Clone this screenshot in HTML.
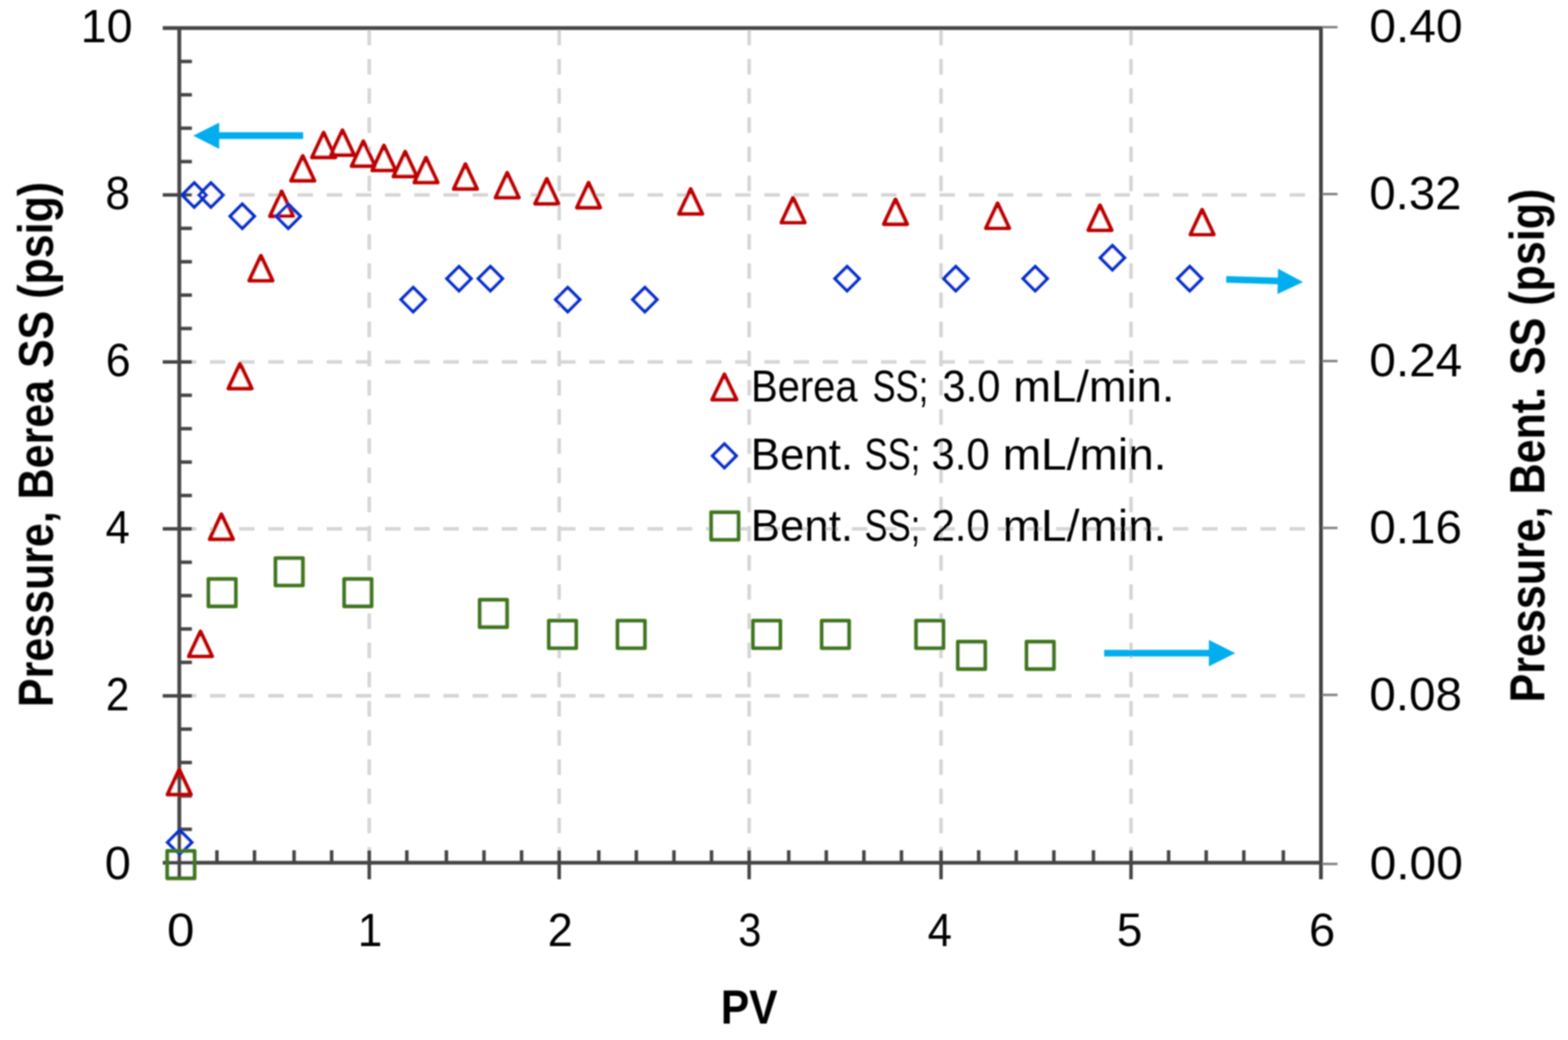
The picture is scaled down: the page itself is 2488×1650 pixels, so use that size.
<!DOCTYPE html>
<html lang="en"><head><meta charset="utf-8"><title>Pressure vs PV</title>
<style>html,body{margin:0;padding:0;background:#fff}body{width:2488px;height:1650px;overflow:hidden}svg{display:block}text{font-family:"Liberation Sans",sans-serif;fill:#000}.b{font-weight:bold}</style></head><body>
<svg width="2488" height="1650" viewBox="0 0 2488 1650" role="img" aria-label="Pressure versus PV chart">
<rect width="2488" height="1650" fill="#fff"/>
<g id="all" filter="url(#soft)">
<defs><filter id="soft" x="-2%" y="-2%" width="104%" height="104%"><feGaussianBlur stdDeviation="1.25"/></filter></defs>
<g fill="none" stroke="#d5d5d5" stroke-width="5.6" stroke-dasharray="24.6 21.7">
<path d="M585.9 47.3V1368.7"/>
<path d="M887.3 47.3V1368.7"/>
<path d="M1188.7 47.3V1368.7"/>
<path d="M1493.2 47.3V1368.7"/>
<path d="M1794.6 47.3V1368.7"/>
<path d="M286.8 309.3H2096.0"/>
<path d="M286.8 574.2H2096.0"/>
<path d="M286.8 839.0H2096.0"/>
<path d="M286.8 1103.9H2096.0"/>
</g>
<g fill="#fff" fill-opacity="0.88" stroke="none">
<path d="M414.0 405.9L432.4 445.1H395.6Z"/>
<path d="M446.9 303.7L465.3 342.9H428.5Z"/>
<path d="M480.4 247.5L498.8 286.7H462.0Z"/>
<path d="M513.5 210.5L531.9 249.7H495.1Z"/>
<path d="M543.4 206.7L561.8 245.9H525.0Z"/>
<path d="M576.5 224.2L594.9 263.4H558.1Z"/>
<path d="M609.2 231.0L627.6 270.2H590.8Z"/>
<path d="M642.9 240.8L661.3 279.9H624.5Z"/>
<path d="M676.0 250.3L694.4 289.5H657.6Z"/>
<path d="M738.5 260.6L756.9 299.7H720.1Z"/>
<path d="M804.8 274.3L823.2 313.5H786.4Z"/>
<path d="M867.6 283.9L886.0 323.1H849.2Z"/>
<path d="M933.9 290.1L952.3 329.3H915.5Z"/>
<path d="M1095.9 300.1L1114.3 339.2H1077.5Z"/>
<path d="M1258.4 313.9L1276.8 353.0H1240.0Z"/>
<path d="M1420.9 316.4L1439.3 355.6H1402.5Z"/>
<path d="M1582.9 322.8L1601.3 362.0H1564.5Z"/>
<path d="M1745.4 325.9L1763.8 365.1H1727.0Z"/>
<path d="M1907.4 332.9L1925.8 372.0H1889.0Z"/>
<path d="M380.9 577.1L399.3 616.3H362.5Z"/>
<path d="M351.3 816.1L369.7 855.4H332.9Z"/>
<path d="M318.1 1002.0L336.5 1041.2H299.7Z"/>
<path d="M284.4 1221.1L302.8 1260.4H266.0Z"/>
<path d="M1149.4 594.1L1168.6 633.9H1130.2Z"/>
<path d="M285.1 1317.2L304.3 1336.4L285.1 1355.6L265.9 1336.4Z"/>
<path d="M308.2 290.2L327.4 309.4L308.2 328.6L289.0 309.4Z"/>
<path d="M334.7 290.2L353.9 309.4L334.7 328.6L315.5 309.4Z"/>
<path d="M384.4 323.9L403.6 343.1L384.4 362.3L365.2 343.1Z"/>
<path d="M457.4 323.9L476.6 343.1L457.4 362.3L438.2 343.1Z"/>
<path d="M655.6 456.1L674.8 475.3L655.6 494.5L636.4 475.3Z"/>
<path d="M728.3 422.9L747.5 442.1L728.3 461.3L709.1 442.1Z"/>
<path d="M778.1 422.9L797.3 442.1L778.1 461.3L758.9 442.1Z"/>
<path d="M900.8 456.1L920.0 475.3L900.8 494.5L881.6 475.3Z"/>
<path d="M1023.2 456.1L1042.4 475.3L1023.2 494.5L1004.0 475.3Z"/>
<path d="M1344.1 422.9L1363.3 442.1L1344.1 461.3L1324.9 442.1Z"/>
<path d="M1516.6 422.9L1535.8 442.1L1516.6 461.3L1497.4 442.1Z"/>
<path d="M1642.6 422.9L1661.8 442.1L1642.6 461.3L1623.4 442.1Z"/>
<path d="M1765.1 389.7L1784.3 408.9L1765.1 428.1L1745.9 408.9Z"/>
<path d="M1887.8 422.9L1907.0 442.1L1887.8 461.3L1868.6 442.1Z"/>
<path d="M1149.4 704.4L1168.2 723.2L1149.4 742.0L1130.6 723.2Z"/>
<path d="M265.4 1350.1h43.3v43.3h-43.3Z"/>
<path d="M330.8 918.6h43.3v43.3h-43.3Z"/>
<path d="M437.2 885.5h43.3v43.3h-43.3Z"/>
<path d="M546.2 918.6h43.3v43.3h-43.3Z"/>
<path d="M761.2 951.6h43.3v43.3h-43.3Z"/>
<path d="M870.9 984.9h43.3v43.3h-43.3Z"/>
<path d="M979.9 984.9h43.3v43.3h-43.3Z"/>
<path d="M1194.8 984.9h43.3v43.3h-43.3Z"/>
<path d="M1303.9 984.9h43.3v43.3h-43.3Z"/>
<path d="M1453.6 984.9h43.3v43.3h-43.3Z"/>
<path d="M1519.9 1018.1h43.3v43.3h-43.3Z"/>
<path d="M1628.9 1018.1h43.3v43.3h-43.3Z"/>
<path d="M1128.5 812.9h43.3v43.3h-43.3Z"/>
</g>
<g fill="none" stroke="#454545" stroke-width="6.0">
<path d="M258.2 44.5H2099.0"/>
<path d="M258.2 1368.7H2099.0"/>
<path d="M284.5 44.5V1395.0"/>
<path d="M2096.0 44.5V1395.0"/>
</g>
<g fill="none" stroke="#454545" stroke-width="5.5">
<path d="M344.2 1349.0V1368.7"/>
<path d="M403.8 1349.0V1368.7"/>
<path d="M466.6 1349.0V1368.7"/>
<path d="M526.2 1349.0V1368.7"/>
<path d="M585.9 1349.0V1395.0"/>
<path d="M645.5 1349.0V1368.7"/>
<path d="M708.3 1349.0V1368.7"/>
<path d="M768.0 1349.0V1368.7"/>
<path d="M827.6 1349.0V1368.7"/>
<path d="M887.3 1349.0V1395.0"/>
<path d="M950.1 1349.0V1368.7"/>
<path d="M1009.7 1349.0V1368.7"/>
<path d="M1069.4 1349.0V1368.7"/>
<path d="M1129.0 1349.0V1368.7"/>
<path d="M1188.7 1349.0V1395.0"/>
<path d="M1251.5 1349.0V1368.7"/>
<path d="M1311.1 1349.0V1368.7"/>
<path d="M1370.8 1349.0V1368.7"/>
<path d="M1430.4 1349.0V1368.7"/>
<path d="M1493.2 1349.0V1395.0"/>
<path d="M1552.9 1349.0V1368.7"/>
<path d="M1612.5 1349.0V1368.7"/>
<path d="M1672.2 1349.0V1368.7"/>
<path d="M1735.0 1349.0V1368.7"/>
<path d="M1794.6 1349.0V1395.0"/>
<path d="M1854.3 1349.0V1368.7"/>
<path d="M1913.9 1349.0V1368.7"/>
<path d="M1973.6 1349.0V1368.7"/>
<path d="M2036.3 1349.0V1368.7"/>
<path d="M284.5 97.5H304.5"/>
<path d="M284.5 150.4H304.5"/>
<path d="M284.5 203.4H304.5"/>
<path d="M284.5 256.4H304.5"/>
<path d="M258.2 309.3H304.5"/>
<path d="M284.5 362.3H304.5"/>
<path d="M284.5 415.3H304.5"/>
<path d="M284.5 468.2H304.5"/>
<path d="M284.5 521.2H304.5"/>
<path d="M258.2 574.2H304.5"/>
<path d="M284.5 627.1H304.5"/>
<path d="M284.5 680.1H304.5"/>
<path d="M284.5 733.1H304.5"/>
<path d="M284.5 786.1H304.5"/>
<path d="M258.2 839.0H304.5"/>
<path d="M284.5 892.0H304.5"/>
<path d="M284.5 945.0H304.5"/>
<path d="M284.5 997.9H304.5"/>
<path d="M284.5 1050.9H304.5"/>
<path d="M258.2 1103.9H304.5"/>
<path d="M284.5 1156.8H304.5"/>
<path d="M284.5 1209.8H304.5"/>
<path d="M284.5 1262.8H304.5"/>
<path d="M284.5 1315.7H304.5"/>
</g>
<g fill="none" stroke="#808080" stroke-width="3.8">
<path d="M2098.0 43.1H2122.3"/>
<path d="M2098.0 307.9H2122.3"/>
<path d="M2098.0 572.8H2122.3"/>
<path d="M2098.0 837.6H2122.3"/>
<path d="M2098.0 1102.5H2122.3"/>
<path d="M2098.0 1370.7H2122.3"/>
</g>
<g fill="none" stroke="#c00000" stroke-width="6.2" stroke-linejoin="round">
<path d="M414.0 405.9L432.4 445.1H395.6Z"/>
<path d="M446.9 303.7L465.3 342.9H428.5Z"/>
<path d="M480.4 247.5L498.8 286.7H462.0Z"/>
<path d="M513.5 210.5L531.9 249.7H495.1Z"/>
<path d="M543.4 206.7L561.8 245.9H525.0Z"/>
<path d="M576.5 224.2L594.9 263.4H558.1Z"/>
<path d="M609.2 231.0L627.6 270.2H590.8Z"/>
<path d="M642.9 240.8L661.3 279.9H624.5Z"/>
<path d="M676.0 250.3L694.4 289.5H657.6Z"/>
<path d="M738.5 260.6L756.9 299.7H720.1Z"/>
<path d="M804.8 274.3L823.2 313.5H786.4Z"/>
<path d="M867.6 283.9L886.0 323.1H849.2Z"/>
<path d="M933.9 290.1L952.3 329.3H915.5Z"/>
<path d="M1095.9 300.1L1114.3 339.2H1077.5Z"/>
<path d="M1258.4 313.9L1276.8 353.0H1240.0Z"/>
<path d="M1420.9 316.4L1439.3 355.6H1402.5Z"/>
<path d="M1582.9 322.8L1601.3 362.0H1564.5Z"/>
<path d="M1745.4 325.9L1763.8 365.1H1727.0Z"/>
<path d="M1907.4 332.9L1925.8 372.0H1889.0Z"/>
<path d="M380.9 577.1L399.3 616.3H362.5Z"/>
<path d="M351.3 816.1L369.7 855.4H332.9Z"/>
<path d="M318.1 1002.0L336.5 1041.2H299.7Z"/>
<path d="M284.4 1221.1L302.8 1260.4H266.0Z"/>
<path d="M1149.4 594.1L1168.6 633.9H1130.2Z"/>
</g>
<g fill="none" stroke="#0030cc" stroke-width="5.2" stroke-linejoin="miter">
<path d="M285.1 1317.2L304.3 1336.4L285.1 1355.6L265.9 1336.4Z"/>
<path d="M308.2 290.2L327.4 309.4L308.2 328.6L289.0 309.4Z"/>
<path d="M334.7 290.2L353.9 309.4L334.7 328.6L315.5 309.4Z"/>
<path d="M384.4 323.9L403.6 343.1L384.4 362.3L365.2 343.1Z"/>
<path d="M457.4 323.9L476.6 343.1L457.4 362.3L438.2 343.1Z"/>
<path d="M655.6 456.1L674.8 475.3L655.6 494.5L636.4 475.3Z"/>
<path d="M728.3 422.9L747.5 442.1L728.3 461.3L709.1 442.1Z"/>
<path d="M778.1 422.9L797.3 442.1L778.1 461.3L758.9 442.1Z"/>
<path d="M900.8 456.1L920.0 475.3L900.8 494.5L881.6 475.3Z"/>
<path d="M1023.2 456.1L1042.4 475.3L1023.2 494.5L1004.0 475.3Z"/>
<path d="M1344.1 422.9L1363.3 442.1L1344.1 461.3L1324.9 442.1Z"/>
<path d="M1516.6 422.9L1535.8 442.1L1516.6 461.3L1497.4 442.1Z"/>
<path d="M1642.6 422.9L1661.8 442.1L1642.6 461.3L1623.4 442.1Z"/>
<path d="M1765.1 389.7L1784.3 408.9L1765.1 428.1L1745.9 408.9Z"/>
<path d="M1887.8 422.9L1907.0 442.1L1887.8 461.3L1868.6 442.1Z"/>
<path d="M1149.4 704.4L1168.2 723.2L1149.4 742.0L1130.6 723.2Z"/>
</g>
<g fill="none" stroke="#40781a" stroke-width="6.1" stroke-linejoin="round">
<path d="M265.4 1350.1h43.3v43.3h-43.3Z"/>
<path d="M330.8 918.6h43.3v43.3h-43.3Z"/>
<path d="M437.2 885.5h43.3v43.3h-43.3Z"/>
<path d="M546.2 918.6h43.3v43.3h-43.3Z"/>
<path d="M761.2 951.6h43.3v43.3h-43.3Z"/>
<path d="M870.9 984.9h43.3v43.3h-43.3Z"/>
<path d="M979.9 984.9h43.3v43.3h-43.3Z"/>
<path d="M1194.8 984.9h43.3v43.3h-43.3Z"/>
<path d="M1303.9 984.9h43.3v43.3h-43.3Z"/>
<path d="M1453.6 984.9h43.3v43.3h-43.3Z"/>
<path d="M1519.9 1018.1h43.3v43.3h-43.3Z"/>
<path d="M1628.9 1018.1h43.3v43.3h-43.3Z"/>
<path d="M1128.5 812.9h43.3v43.3h-43.3Z"/>
</g>
<g fill="#00aeef" stroke="none">
<path d="M306.6 215.3L347.8 194.4V209.8H481V220.6H347.8V236.2Z"/>
<path d="M1945.8 437.9L2027.6 440.5L2028 426.2L2067.6 447.4L2027 466.6L2027.4 451L1945.6 448.4Z"/>
<path d="M1752 1031H1918.2V1015.2L1960 1036.2L1918.2 1057.2V1041.4H1752Z"/>
</g>
<text x="128.1" y="67.4" font-size="75.0" textLength="82.1" lengthAdjust="spacingAndGlyphs">10</text>
<text x="167.2" y="332.2" font-size="75.0" textLength="39.0" lengthAdjust="spacingAndGlyphs">8</text>
<text x="167.7" y="597.1" font-size="75.0" textLength="39.5" lengthAdjust="spacingAndGlyphs">6</text>
<text x="167.5" y="861.9" font-size="75.0" textLength="38.5" lengthAdjust="spacingAndGlyphs">4</text>
<text x="167.9" y="1126.8" font-size="75.0" textLength="37.2" lengthAdjust="spacingAndGlyphs">2</text>
<text x="166.2" y="1395.0" font-size="75.0" textLength="41.4" lengthAdjust="spacingAndGlyphs">0</text>
<text x="2172.8" y="67.4" font-size="75.0" textLength="147.9" lengthAdjust="spacingAndGlyphs">0.40</text>
<text x="2172.8" y="332.2" font-size="75.0" textLength="146.1" lengthAdjust="spacingAndGlyphs">0.32</text>
<text x="2172.8" y="597.1" font-size="75.0" textLength="147.4" lengthAdjust="spacingAndGlyphs">0.24</text>
<text x="2172.8" y="861.9" font-size="75.0" textLength="146.9" lengthAdjust="spacingAndGlyphs">0.16</text>
<text x="2172.8" y="1126.8" font-size="75.0" textLength="147.0" lengthAdjust="spacingAndGlyphs">0.08</text>
<text x="2173.2" y="1395.0" font-size="75.0" textLength="148.0" lengthAdjust="spacingAndGlyphs">0.00</text>
<text x="264.9" y="1501.0" font-size="75.0" textLength="43.5" lengthAdjust="spacingAndGlyphs">0</text>
<text x="567.8" y="1501.0" font-size="75.0" textLength="38.8" lengthAdjust="spacingAndGlyphs">1</text>
<text x="868.9" y="1501.0" font-size="75.0" textLength="39.9" lengthAdjust="spacingAndGlyphs">2</text>
<text x="1171.4" y="1501.0" font-size="75.0" textLength="36.6" lengthAdjust="spacingAndGlyphs">3</text>
<text x="1472.1" y="1501.0" font-size="75.0" textLength="38.4" lengthAdjust="spacingAndGlyphs">4</text>
<text x="1772.1" y="1501.0" font-size="75.0" textLength="40.6" lengthAdjust="spacingAndGlyphs">5</text>
<text x="2076.9" y="1501.0" font-size="75.0" textLength="41.6" lengthAdjust="spacingAndGlyphs">6</text>
<text x="1143.7" y="1624.0" font-size="76.0" textLength="90.2" lengthAdjust="spacingAndGlyphs" class="b">PV</text>
<text x="83.5" y="1121.8" font-size="77.0" textLength="833.2" lengthAdjust="spacingAndGlyphs" class="b" transform="rotate(-90 83.5 1121.8)">Pressure, Berea SS (psig)</text>
<text x="2450.8" y="1114.4" font-size="77.0" textLength="815.0" lengthAdjust="spacingAndGlyphs" class="b" transform="rotate(-90 2450.8 1114.4)">Pressure, Bent. SS (psig)</text>
<text y="636.6" font-size="70.0"><tspan x="1191.8" textLength="169.0" lengthAdjust="spacingAndGlyphs">Berea</tspan> <tspan x="1384.5" textLength="88.4" lengthAdjust="spacingAndGlyphs">SS;</tspan> <tspan x="1495.2" textLength="92.4" lengthAdjust="spacingAndGlyphs">3.0</tspan> <tspan x="1607.8" textLength="255.7" lengthAdjust="spacingAndGlyphs">mL/min.</tspan></text>
<text y="745.0" font-size="70.0"><tspan x="1191.3" textLength="162.2" lengthAdjust="spacingAndGlyphs">Bent.</tspan> <tspan x="1371.8" textLength="88.5" lengthAdjust="spacingAndGlyphs">SS;</tspan> <tspan x="1478.0" textLength="92.4" lengthAdjust="spacingAndGlyphs">3.0</tspan> <tspan x="1590.9" textLength="260.0" lengthAdjust="spacingAndGlyphs">mL/min.</tspan></text>
<text y="858.0" font-size="70.0"><tspan x="1191.3" textLength="162.2" lengthAdjust="spacingAndGlyphs">Bent.</tspan> <tspan x="1371.8" textLength="88.5" lengthAdjust="spacingAndGlyphs">SS;</tspan> <tspan x="1478.2" textLength="92.3" lengthAdjust="spacingAndGlyphs">2.0</tspan> <tspan x="1590.9" textLength="260.0" lengthAdjust="spacingAndGlyphs">mL/min.</tspan></text>
</g>
</svg></body></html>
